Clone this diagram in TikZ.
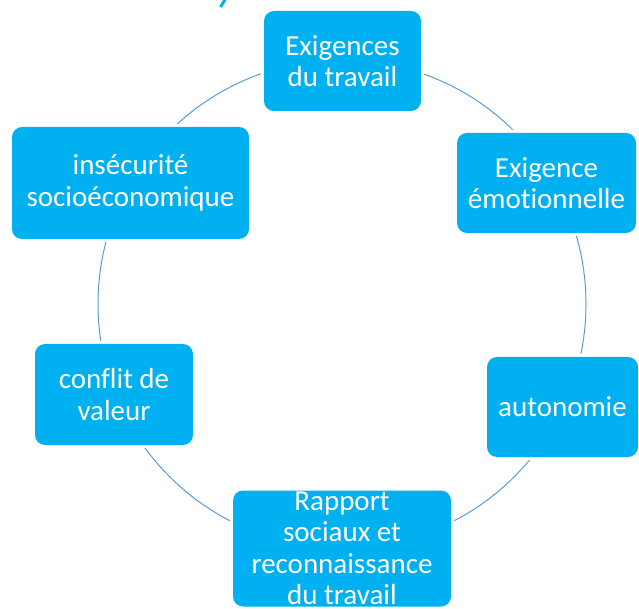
\documentclass[tikz,border=0pt]{standalone}
\usepackage{fontspec}
\setmainfont{Carlito}[Ligatures=NoCommon]
\usepackage{xcolor}
\usepackage{tikz}
\definecolor{boxblue}{HTML}{00B0F0}
\definecolor{ringblue}{HTML}{5B9BD5}
\tikzset{
	bloc/.style={fill=boxblue, text=white, rounded corners=10pt, align=center, inner sep=0pt,
		font=\fontsize{29}{31.5}\selectfont, preaction={draw=white, line width=6pt}},
	anneau/.style={draw=ringblue, line width=1pt},
}

\begin{document}
\begin{tikzpicture}[x=1pt, y=1pt]
					\def\R{244};

					\useasboundingbox (0,0) rectangle (639,608);
					\coordinate (ctr) at (342,304);

					\begin{scope}
						\draw[anneau] (ctr) circle[radius=\R];
						\draw[boxblue, line width=3pt] (220.5,601) -- (226,610);
					\end{scope}

					\begin{scope}
						\node[bloc, minimum width=157, minimum height=100] (travail) at (342.5,547) {Exigences\\du travail};
						\node[bloc, minimum width=179, minimum height=100] (emotion) at (546.5,425) {Exigence\\émotionnelle};
						\node[bloc, minimum width=151, minimum height=100] (autonomie) at (562.5,201) {autonomie};
						\node[bloc, minimum width=218, minimum height=116] (rapport) at (342,59.5) {Rapport\\sociaux et\\reconnaissance\\du travail};
						\node[bloc, minimum width=158, minimum height=101] (conflit) at (114,213.5) {conflit de\\valeur};
						\node[bloc, minimum width=237, minimum height=112] (insecurite) at (130.5,425) {insécurité\\socioéconomique};
					\end{scope}
				\end{tikzpicture}
\end{document}
